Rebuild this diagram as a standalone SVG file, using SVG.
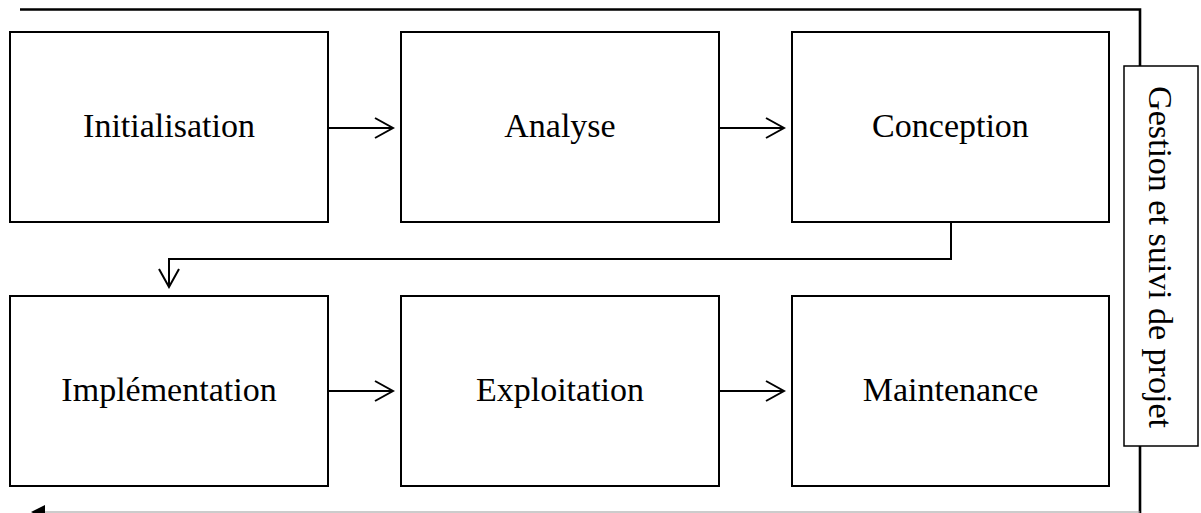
<svg xmlns="http://www.w3.org/2000/svg" width="1201" height="513" viewBox="0 0 1201 513">
  <style>
    .box { fill: #ffffff; stroke: #000000; stroke-width: 2; }
    .side { fill: #ffffff; stroke: #000000; stroke-width: 1.5; }
    .lbl { font-family: "Liberation Serif", "Times New Roman", serif; font-size: 34px; fill: #000000; text-anchor: middle; }
    .conn { fill: none; stroke: #000000; stroke-width: 2; }
    .frame { fill: none; stroke: #000000; stroke-width: 2.6; }
  </style>
  <defs>
    <marker id="open" markerUnits="userSpaceOnUse" markerWidth="22" markerHeight="24" viewBox="-20 -12 22 24" refX="0" refY="0" orient="auto">
      <path d="M-18,-10 L0,0 L-18,10" fill="none" stroke="#000000" stroke-width="2"/>
    </marker>
  </defs>

  <g id="connectors">
    <path class="frame" d="M20,9.5 H1140 V66"/>
    <path class="frame" d="M1140,446 V513"/>
    <line x1="1140" y1="512" x2="44" y2="512" stroke="#9a9a9a" stroke-width="1.2"/>
    <polygon points="31,512 45,505 45,519" fill="#000000"/>
    <line class="conn" x1="328" y1="128" x2="393" y2="128" marker-end="url(#open)"/>
    <line class="conn" x1="719" y1="128" x2="784" y2="128" marker-end="url(#open)"/>
    <path class="conn" d="M951,222 V259 H169 V287" marker-end="url(#open)"/>
    <line class="conn" x1="328" y1="391" x2="393" y2="391" marker-end="url(#open)"/>
    <line class="conn" x1="719" y1="391" x2="784" y2="391" marker-end="url(#open)"/>
  </g>

  <g id="initialisation">
    <rect class="box" x="10" y="32" width="318" height="190"/>
    <text class="lbl" x="169" y="137">Initialisation</text>
  </g>
  <g id="analyse">
    <rect class="box" x="401" y="32" width="318" height="190"/>
    <text class="lbl" x="560" y="137">Analyse</text>
  </g>
  <g id="conception">
    <rect class="box" x="792" y="32" width="317" height="190"/>
    <text class="lbl" x="950.5" y="137">Conception</text>
  </g>
  <g id="implementation">
    <rect class="box" x="10" y="296" width="318" height="190"/>
    <text class="lbl" x="169" y="401">Implémentation</text>
  </g>
  <g id="exploitation">
    <rect class="box" x="401" y="296" width="318" height="190"/>
    <text class="lbl" x="560" y="401">Exploitation</text>
  </g>
  <g id="maintenance">
    <rect class="box" x="792" y="296" width="317" height="190"/>
    <text class="lbl" x="950.5" y="401">Maintenance</text>
  </g>
  <g id="gestion">
    <rect class="side" x="1124" y="66" width="74" height="380"/>
    <text class="lbl" transform="translate(1149,257) rotate(90)">Gestion et suivi de projet</text>
  </g>
</svg>
